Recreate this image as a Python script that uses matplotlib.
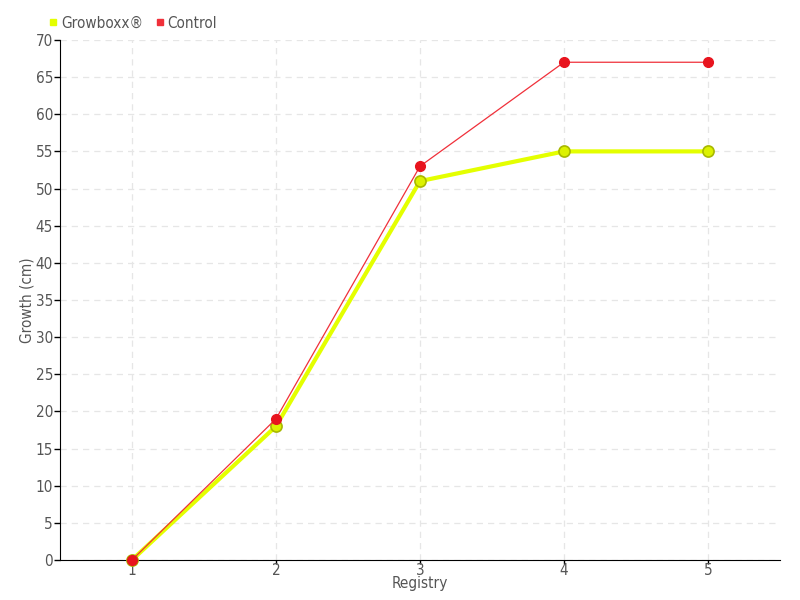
import matplotlib
matplotlib.use('Agg')
from matplotlib import pyplot as plt
from matplotlib.lines import Line2D

plt.rcParams['font.family'] = ['DejaVu Sans']
plt.rcParams['font.stretch'] = 'condensed'

registry = [1, 2, 3, 4, 5]
growboxx = [0, 18, 51, 55, 55]
control = [0, 19, 53, 67, 67]
yticks = list(range(0, 75, 5))

fig = plt.figure(figsize=(8, 6), dpi=100)
ax = fig.add_axes([0.075, 0.0667, 0.9, 0.8667])

ax.plot(registry, growboxx, color='#e4ff00', lw=3, marker='o', ms=8,
        mfc='#dcf200', mec='#a8b800', mew=1.2, zorder=3, clip_on=False)
ax.plot(registry, control, color='#f0303a', lw=0.9, marker='o', ms=7,
        mfc='#e8141e', mec='#e8141e', zorder=4, clip_on=False)

ax.set_xlim(0.5, 5.5)
ax.set_ylim(0, 70)
ax.set_xticks(registry)
ax.set_yticks(yticks)
ax.grid(True, color='#e6e6e6', ls=(0, (5, 4)), lw=0.9)
ax.set_axisbelow(True)
for s in ['top', 'right']:
    ax.spines[s].set_visible(False)
ax.tick_params(labelcolor='#555555', labelsize=11, width=1, color='black')
ax.tick_params(axis='x', length=3, pad=-1)
ax.tick_params(axis='y', length=4, pad=1)

ax.set_xlabel('Registry', fontsize=11, color='#555555', labelpad=-1)
ax.set_ylabel('Growth (cm)', fontsize=11, color='#555555', labelpad=0.5)

handles = [Line2D([], [], ls='', marker='s', ms=5, color='#e4ff00'),
           Line2D([], [], ls='', marker='s', ms=5, color='#f0303a')]
fig.legend(handles, ['Growboxx®', 'Control'], loc='upper left',
           bbox_to_anchor=(0.04, 0.997), ncol=2, frameon=False,
           handletextpad=0.0, columnspacing=0.6, fontsize=11,
           labelcolor='#555555', handlelength=1)

fig.savefig('out.png', dpi=100)
